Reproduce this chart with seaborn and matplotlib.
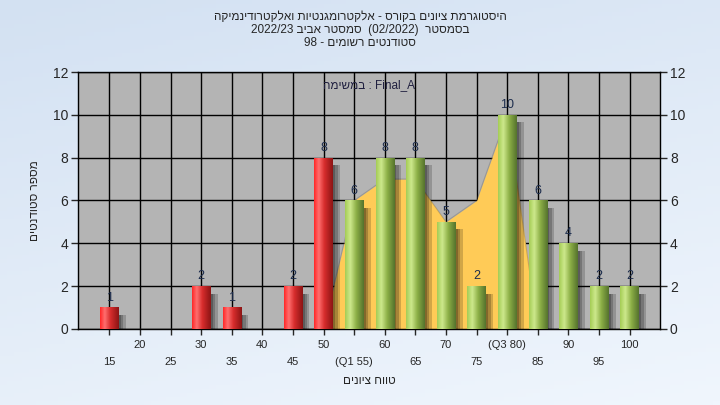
import re
import numpy as np
import pandas as pd
import matplotlib
matplotlib.use('Agg')
import matplotlib.pyplot as plt
import seaborn as sns

# grade ranges and number of students in each
ranges = [15, 20, 25, 30, 35, 40, 45, 50, 55, 60, 65, 70, 75, 80, 85, 90, 95, 100]
counts = [1, 0, 0, 2, 1, 0, 2, 8, 6, 8, 8, 5, 2, 10, 6, 4, 2, 2]
groups = ['fail'] * 8 + ['pass'] * 10
# yellow area drawn behind the bars
area_vals = [0, 0, 0, 0, 0, 0, 0, 0, 6, 7, 7, 5, 6, 10, 0, 0, 0, 0]
tick_labels = ['15', '20', '25', '30', '35', '40', '45', '50', '(Q1 55)',
               '60', '65', '70', '75', '(Q3 80)', '85', '90', '95', '100']


def heb(s):
    # right-to-left text -> visual order (numbers kept, brackets mirrored)
    parts = re.findall(r'[0-9][0-9/]*[0-9]|[0-9]|.', s)
    mirror = {'(': ')', ')': '('}
    return ''.join(mirror.get(p, p) for p in reversed(parts))


title1 = 'היסטוגרמת ציונים בקורס - אלקטרומגנטיות ואלקטרודינמיקה'
title2 = 'בסמסטר  (02/2022)  סמסטר אביב 2022/23'
title3 = 'סטודנטים רשומים - 98'
task = 'במשימה'
ylab = 'מספר סטודנטים'
xlab = 'טווח ציונים'

sns.set_style('ticks')
plt.rcParams['font.family'] = ['Liberation Sans', 'DejaVu Sans']

df = pd.DataFrame({'range': [str(r) for r in ranges], 'count': counts, 'group': groups})

fig = plt.figure(figsize=(7.2, 4.05), dpi=100)

# light blue background
bg = fig.add_axes([0, 0, 1, 1], zorder=-10)
yy, xx = np.mgrid[0:1:100j, 0:1:100j]
t = 0.7 * yy + 0.3 * xx
top = np.array([211, 225, 242]) / 255
bot = np.array([240, 246, 253]) / 255
bg.imshow(top + (bot - top) * t[..., None], extent=[0, 1, 0, 1], aspect='auto', origin='upper')
bg.axis('off')

ax = fig.add_axes([0.108, 0.188, 0.809, 0.634])
ax.set_facecolor('#b4b4b4')

x = np.arange(len(ranges))
ax.fill_between(x, area_vals, color='#ffcb57', lw=0, zorder=1)
ax.plot(x, area_vals, color='#555555', lw=0.8, alpha=0.3, zorder=1.1)

# soft shadows
for dx, a in [(0.08, 0.22), (0.16, 0.2), (0.24, 0.18)]:
    ax.bar(x + dx, counts, width=0.6, bottom=-0.35, color='black', alpha=a, lw=0, zorder=2)

sns.barplot(data=df, x='range', y='count', hue='group',
            palette={'fail': '#e02020', 'pass': '#9ac450'},
            dodge=False, width=0.6, legend=False, ax=ax, zorder=3, linewidth=0)

stops = {
    'fail': [(0.0, (255, 40, 40)), (0.25, (255, 110, 110)), (0.55, (215, 45, 45)), (1.0, (140, 20, 20))],
    'pass': [(0.0, (165, 205, 85)), (0.28, (205, 232, 140)), (0.6, (140, 175, 70)), (1.0, (85, 115, 45))],
}


def grad_img(g):
    pos = np.linspace(0, 1, 64)
    s = stops[g]
    p = [q[0] for q in s]
    cols = np.array([q[1] for q in s]) / 255
    img = np.stack([np.interp(pos, p, cols[:, k]) for k in range(3)], axis=-1)
    return img[None, :, :]


for patch in list(ax.patches):
    h = patch.get_height()
    w = patch.get_width()
    if h <= 0 or w > 0.7 or patch.get_facecolor()[3] < 0.9:
        continue
    x0 = patch.get_x()
    idx = int(round(x0 + w / 2))
    if idx < 0 or idx >= len(groups) or abs(x0 + w / 2 - idx) > 0.01:
        continue
    im = ax.imshow(grad_img(groups[idx]), extent=[x0, x0 + w, 0, h], aspect='auto', zorder=3.5)
    im.set_clip_path(patch)

for i, v in enumerate(counts):
    if v > 0:
        ax.text(i, v + 0.18, str(v), ha='center', va='bottom', fontsize=9, color='#1c2c4c', zorder=5)

ax.set_xlim(-1.03, 18.0)
ax.set_ylim(0, 12)
ax.set_yticks(range(0, 13, 2))
ax.grid(True, color='black', lw=1)
ax.set_axisbelow(True)

# staggered x labels: odd positions on the upper row, even ones lower
ax.set_xticks(x[1::2])
ax.set_xticklabels(tick_labels[1::2])
ax.set_xticks(x[0::2], minor=True)
ax.set_xticklabels(tick_labels[0::2], minor=True)
ax.tick_params(axis='x', which='major', length=4, width=1, pad=4, labelsize=8)
ax.tick_params(axis='x', which='minor', length=4, width=1, pad=16, labelsize=8)
ax.tick_params(axis='y', length=5, width=1, labelsize=10, right=True, labelright=True, pad=2)
ax.xaxis.grid(True, which='minor', color='black', lw=1)
for s in ax.spines.values():
    s.set_color('black')
    s.set_linewidth(1)

ax.set_xlabel(heb(xlab), fontsize=8.5, labelpad=6)
ax.set_ylabel(heb(ylab), fontsize=8.5, labelpad=8)

ax.text(0.5, 0.95, heb(task) + ' : Final_A', transform=ax.transAxes, ha='center', va='center',
        fontsize=8.5, color='#202040', zorder=6)

fig.text(0.5, 0.958, heb(title1), ha='center', va='center', fontsize=8.5)
fig.text(0.5, 0.925, heb(title2), ha='center', va='center', fontsize=8.5)
fig.text(0.5, 0.893, heb(title3), ha='center', va='center', fontsize=8.5)

fig.savefig('out.png', dpi=100)
